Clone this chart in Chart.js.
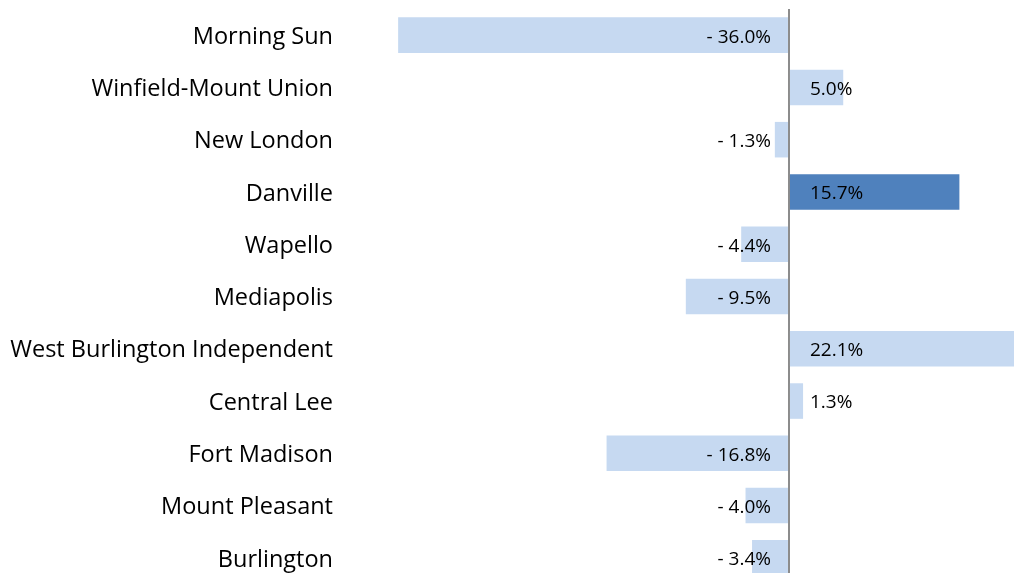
<!DOCTYPE html>
<html>
<head>
<meta charset="utf-8">
<script src="https://cdn.jsdelivr.net/npm/chart.js@4"></script>
<style>
    html, body { margin: 0; padding: 0; background: #ffffff; overflow: hidden; }
</style>
</head>
<body>
<canvas id="changeChart" width="1014" height="584"></canvas>
<script>
// Chart data
const districts = ["Morning Sun", "Winfield-Mount Union", "New London", "Danville", "Wapello",
    "Mediapolis", "West Burlington Independent", "Central Lee", "Fort Madison", "Mount Pleasant", "Burlington"];
const changes = [-36.0, 5.0, -1.3, 15.7, -4.4, -9.5, 22.1, 1.3, -16.8, -4.0, -3.4];
const highlight = "Danville";

const lightBlue = "#c6d9f1";
const darkBlue = "#4f81bd";
const fontFamily = "'Open Sans', 'Liberation Sans', Arial, sans-serif";

// value labels next to the zero line
const valueLabels = {
    id: "valueLabels",
    afterDatasetsDraw(chart) {
        let ctx = chart.ctx;
        let zero = chart.scales.x.getPixelForValue(0);
        let meta = chart.getDatasetMeta(0);
        ctx.save();
        ctx.font = "19px " + fontFamily;
        ctx.fillStyle = "#000000";
        ctx.textBaseline = "middle";
        meta.data.forEach((bar, i) => {
            let v = changes[i];
            if (v < 0) {
                ctx.textAlign = "right";
                ctx.fillText("- " + Math.abs(v).toFixed(1) + "%", zero - 18, bar.y + 2);
            } else {
                ctx.textAlign = "left";
                ctx.fillText(v.toFixed(1) + "%", zero + 21, bar.y + 2);
            }
        });
        ctx.restore();
    }
};

new Chart(document.getElementById("changeChart"), {
    type: "bar",
    data: {
        labels: districts,
        datasets: [{
            data: changes,
            backgroundColor: districts.map(d => d === highlight ? darkBlue : lightBlue),
            borderWidth: 0,
            categoryPercentage: 0.68,
            barPercentage: 1.0
        }]
    },
    options: {
        indexAxis: "y",
        responsive: false,
        animation: false,
        layout: { padding: { top: 9, right: 0, bottom: 0, left: 0 } },
        plugins: {
            legend: { display: false },
            tooltip: { enabled: false }
        },
        scales: {
            x: {
                min: -42,
                max: 20.73,
                afterBuildTicks: function (scale) {
                    scale.ticks = [{ value: 0 }]; // only the zero line
                },
                ticks: { display: false },
                border: { display: false },
                grid: {
                    drawTicks: false,
                    color: "#8c8c8c",
                    lineWidth: 2
                }
            },
            y: {
                afterFit: function (scale) {
                    scale.width = 333;
                    scale.paddingTop = 0;
                    scale.paddingBottom = 0;
                },
                ticks: {
                    padding: 0,
                    labelOffset: 2,
                    color: "#000000",
                    font: { family: fontFamily, size: 23.5 }
                },
                border: { display: false },
                grid: { display: false, drawTicks: false }
            }
        }
    },
    plugins: [valueLabels]
});
</script>
</body>
</html>
